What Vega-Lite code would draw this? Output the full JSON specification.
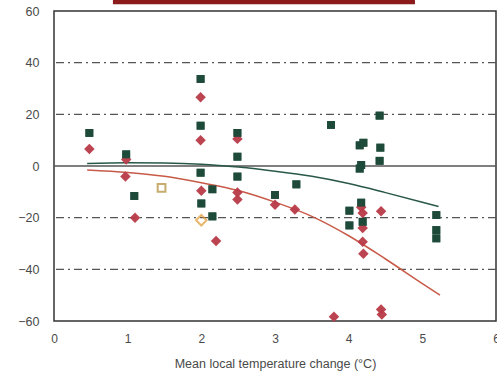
{
  "$schema": "https://vega.github.io/schema/vega-lite/v6.json",
  "autosize": {"type": "none"},
  "padding": {"left": 54, "top": 11, "right": 1, "bottom": 55},
  "width": 442,
  "height": 310,
  "background": "white",
  "config": {
    "view": {"stroke": "#333", "strokeWidth": 1.5},
    "font": "Liberation Sans",
    "axis": {"labelFont": "Liberation Sans", "titleFont": "Liberation Sans", "labelColor": "#4a4a4a", "titleColor": "#4a4a4a"}
  },
  "datasets": {
    "pts": [
      {"x": 0.48, "y": 12.8, "g": "sq"},
      {"x": 0.48, "y": 6.6, "g": "red"},
      {"x": 0.98, "y": 4.5, "g": "sq"},
      {"x": 0.98, "y": 2.5, "g": "red"},
      {"x": 0.97, "y": -4.1, "g": "red"},
      {"x": 1.09, "y": -11.6, "g": "sq"},
      {"x": 1.1, "y": -20, "g": "red"},
      {"x": 1.46, "y": -8.5, "g": "osq"},
      {"x": 1.99, "y": 33.7, "g": "sq"},
      {"x": 1.99, "y": 26.6, "g": "red"},
      {"x": 1.99, "y": 15.6, "g": "sq"},
      {"x": 1.99, "y": 10, "g": "red"},
      {"x": 1.99, "y": -2.6, "g": "sq"},
      {"x": 2.0, "y": -9.6, "g": "red"},
      {"x": 2.15, "y": -9, "g": "sq"},
      {"x": 2.0, "y": -14.5, "g": "sq"},
      {"x": 2.0, "y": -21, "g": "odia"},
      {"x": 2.15, "y": -19.5, "g": "sq"},
      {"x": 2.2, "y": -29, "g": "red"},
      {"x": 2.49, "y": 12.8, "g": "sq"},
      {"x": 2.49, "y": 10.5, "g": "red"},
      {"x": 2.49, "y": 3.6, "g": "sq"},
      {"x": 2.49, "y": -4.1, "g": "sq"},
      {"x": 2.49, "y": -10.3, "g": "red"},
      {"x": 2.49, "y": -13, "g": "red"},
      {"x": 3.0, "y": -11.2, "g": "sq"},
      {"x": 3.0, "y": -15, "g": "red"},
      {"x": 3.29, "y": -7.1, "g": "sq"},
      {"x": 3.27, "y": -16.8, "g": "red"},
      {"x": 3.76, "y": 15.9, "g": "sq"},
      {"x": 3.8, "y": -58.4, "g": "red"},
      {"x": 4.01, "y": -17.3, "g": "sq"},
      {"x": 4.01, "y": -23, "g": "sq"},
      {"x": 4.15, "y": 8, "g": "sq"},
      {"x": 4.2, "y": 9, "g": "sq"},
      {"x": 4.17, "y": 0.4, "g": "sq"},
      {"x": 4.15, "y": -1, "g": "sq"},
      {"x": 4.17, "y": -14.2, "g": "sq"},
      {"x": 4.17, "y": -16, "g": "red"},
      {"x": 4.19, "y": -18.2, "g": "red"},
      {"x": 4.19, "y": -21.6, "g": "sq"},
      {"x": 4.19, "y": -24, "g": "red"},
      {"x": 4.19, "y": -29.3, "g": "red"},
      {"x": 4.2, "y": -34, "g": "red"},
      {"x": 4.42, "y": 19.5, "g": "sq"},
      {"x": 4.43, "y": 7.1, "g": "sq"},
      {"x": 4.42, "y": 2.0, "g": "sq"},
      {"x": 4.44, "y": -17.5, "g": "red"},
      {"x": 4.44, "y": -55.5, "g": "red"},
      {"x": 4.45, "y": -57.5, "g": "red"},
      {"x": 5.19, "y": -19, "g": "sq"},
      {"x": 5.19, "y": -24.8, "g": "sq"},
      {"x": 5.19, "y": -28, "g": "sq"}
    ],
    "curves": [
      {"x": 0.45, "y": 1.0, "c": "green"},
      {"x": 1.0, "y": 1.3, "c": "green"},
      {"x": 1.5, "y": 1.2, "c": "green"},
      {"x": 2.0, "y": 0.7, "c": "green"},
      {"x": 2.5, "y": -0.4, "c": "green"},
      {"x": 3.0, "y": -2.0, "c": "green"},
      {"x": 3.5, "y": -4.0, "c": "green"},
      {"x": 4.0, "y": -6.8, "c": "green"},
      {"x": 4.5, "y": -10.3, "c": "green"},
      {"x": 5.0, "y": -14.0, "c": "green"},
      {"x": 5.22, "y": -15.7, "c": "green"},
      {"x": 0.45, "y": -1.5, "c": "red"},
      {"x": 1.0, "y": -2.5, "c": "red"},
      {"x": 1.5, "y": -4.0, "c": "red"},
      {"x": 2.0, "y": -6.5, "c": "red"},
      {"x": 2.5, "y": -9.5, "c": "red"},
      {"x": 3.0, "y": -14.0, "c": "red"},
      {"x": 3.5, "y": -19.5, "c": "red"},
      {"x": 4.0, "y": -27.0, "c": "red"},
      {"x": 4.5, "y": -36.0, "c": "red"},
      {"x": 5.0, "y": -45.5, "c": "red"},
      {"x": 5.24, "y": -50.0, "c": "red"}
    ],
    "grid": [
      {"y": 40, "k": "dash"},
      {"y": 20, "k": "dash"},
      {"y": -20, "k": "dash"},
      {"y": -40, "k": "dash"},
      {"y": 0, "k": "solid"}
    ]
  },
  "layer": [
    {
      "data": {"name": "pts"},
      "transform": [{"filter": "datum.g == 'sq'"}],
      "mark": {"type": "square", "filled": true, "size": 62, "color": "#1e4a3a", "opacity": 0.95},
      "encoding": {
        "x": {
          "field": "x",
          "type": "quantitative",
          "scale": {"domain": [0, 6], "nice": false},
          "axis": {
            "title": "Mean local temperature change (°C)",
            "titleFontSize": 12.5,
            "titleFontWeight": "normal",
            "titlePadding": 13,
            "labelFontSize": 12,
            "labelPadding": 12,
            "format": "d",
            "values": [0, 1, 2, 3, 4, 5, 6],
            "ticks": false,
            "domain": false,
            "grid": false,
            "labelFlush": false
          }
        },
        "y": {
          "field": "y",
          "type": "quantitative",
          "scale": {"domain": [-60, 60], "nice": false},
          "axis": {
            "title": null,
            "labelFontSize": 12.5,
            "labelPadding": 15,
            "values": [-60, -40, -20, 0, 20, 40, 60],
            "ticks": false,
            "domain": false,
            "grid": false,
            "labelFlush": false
          }
        }
      }
    },
    {
      "data": {"name": "grid"},
      "mark": {"type": "rule", "color": "#555"},
      "encoding": {
        "y": {"field": "y", "type": "quantitative"},
        "strokeDash": {"field": "k", "type": "nominal", "scale": {"domain": ["dash", "solid"], "range": [[8, 4, 2, 4], [1, 0]]}, "legend": null},
        "strokeWidth": {"field": "k", "type": "nominal", "scale": {"domain": ["dash", "solid"], "range": [1.2, 1.5]}, "legend": null}
      }
    },
    {
      "data": {"values": [{}]},
      "mark": {"type": "rule", "color": "#8b1a1a", "strokeWidth": 5, "clip": false},
      "encoding": {"x": {"datum": 0.8}, "x2": {"datum": 4.9}, "y": {"datum": 63.6}}
    },
    {
      "data": {"name": "curves"},
      "mark": {"type": "line", "strokeWidth": 1.5, "interpolate": "monotone"},
      "encoding": {
        "x": {"field": "x", "type": "quantitative"},
        "y": {"field": "y", "type": "quantitative"},
        "color": {"field": "c", "type": "nominal", "scale": {"domain": ["green", "red"], "range": ["#2a5848", "#c85a48"]}, "legend": null}
      }
    },
    {
      "data": {"name": "pts"},
      "transform": [{"filter": "datum.g == 'red'"}],
      "mark": {"type": "point", "shape": "diamond", "filled": true, "size": 110, "color": "#b83a48", "opacity": 0.95},
      "encoding": {
        "x": {"field": "x", "type": "quantitative"},
        "y": {"field": "y", "type": "quantitative"}
      }
    },
    {
      "data": {"name": "pts"},
      "transform": [{"filter": "datum.g == 'osq'"}],
      "mark": {"type": "square", "filled": false, "size": 60, "color": "#b08a30", "strokeWidth": 2},
      "encoding": {
        "x": {"field": "x", "type": "quantitative"},
        "y": {"field": "y", "type": "quantitative"}
      }
    },
    {
      "data": {"name": "pts"},
      "transform": [{"filter": "datum.g == 'odia'"}],
      "mark": {"type": "point", "shape": "diamond", "filled": false, "size": 110, "color": "#e09a30", "strokeWidth": 2},
      "encoding": {
        "x": {"field": "x", "type": "quantitative"},
        "y": {"field": "y", "type": "quantitative"}
      }
    },
    {
      "data": {"name": "pts"},
      "transform": [{"filter": "datum.g == 'sq'"}],
      "mark": {"type": "square", "filled": true, "size": 62, "color": "#1e4a3a", "opacity": 0.95},
      "encoding": {
        "x": {"field": "x", "type": "quantitative"},
        "y": {"field": "y", "type": "quantitative"}
      }
    }
  ]
}
